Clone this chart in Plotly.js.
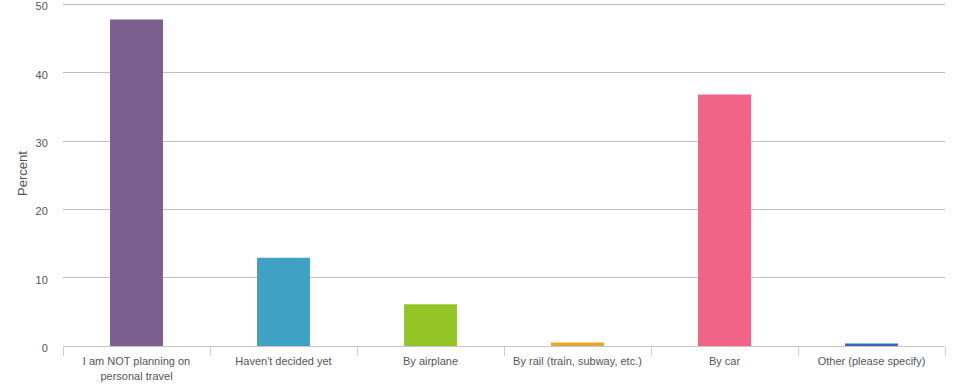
<!DOCTYPE html>
<html>
<head>
<meta charset="utf-8">
<script src="https://cdn.plot.ly/plotly-3.0.1.min.js"></script>
<style>html,body{margin:0;padding:0;background:#fff;}#chart{width:962px;height:384px;}</style>
</head>
<body>
<div id="chart"></div>
<script>
const categories = [
  "I am NOT planning on<br>personal travel",
  "Haven't decided yet",
  "By airplane",
  "By rail (train, subway, etc.)",
  "By car",
  "Other (please specify)"
];
const percents = [47.8, 12.9, 6.1, 0.5, 36.8, 0.35];
const barColors = ["#7B5F8F", "#3FA1C3", "#94C526", "#E9A531", "#F06488", "#3A69B4"];
const yTicks = [0, 10, 20, 30, 40, 50];

const trace = {
  type: "bar",
  x: categories,
  y: percents,
  marker: {color: barColors, line: {width: 0}},
  hoverinfo: "none"
};

const layout = {
  width: 962,
  height: 384,
  margin: {l: 63, r: 17, t: 1, b: 38, pad: 0},
  paper_bgcolor: "#fff",
  plot_bgcolor: "#fff",
  bargap: 0.64,
  showlegend: false,
  font: {family: "Liberation Sans, Arial, sans-serif", size: 11, color: "#555"},
  xaxis: {
    type: "category",
    showline: true,
    linecolor: "#c4c4c4",
    linewidth: 1,
    ticks: "outside",
    tickson: "boundaries",
    ticklen: 9,
    tickcolor: "#d0d0d0",
    tickfont: {size: 11, color: "#555"},
    ticklabelstandoff: 5,
    showgrid: false,
    zeroline: false,
    fixedrange: true
  },
  yaxis: {
    range: [0, 50.5],
    tickvals: yTicks,
    ticktext: yTicks.map(String),
    ticklabeloverflow: "allow",
    ticklabelshift: 2,
    showgrid: true,
    gridcolor: "#c0c0c0",
    gridwidth: 1,
    zeroline: false,
    showline: false,
    ticks: "outside",
    ticklen: 12,
    tickcolor: "rgba(0,0,0,0)",
    tickfont: {size: 11, color: "#555"},
    title: {text: "Percent", font: {size: 13, color: "#555"}, standoff: 4},
    fixedrange: true
  }
};

Plotly.newPlot("chart", [trace], layout, {displayModeBar: false, staticPlot: true});
</script>
</body>
</html>
